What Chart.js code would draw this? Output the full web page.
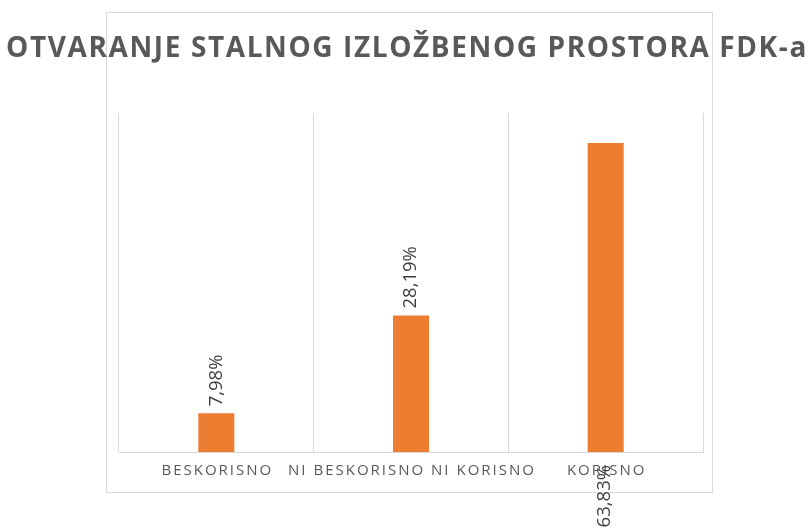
<!DOCTYPE html>
<html>
<head>
<meta charset="utf-8">
<script src="https://cdn.jsdelivr.net/npm/chart.js@4/dist/chart.umd.min.js"></script>
<style>
  html, body { margin: 0; padding: 0; background: #fff; }
  #wrap { width: 811px; height: 528px; position: relative; }
</style>
</head>
<body>
<div id="wrap"><canvas id="chart"></canvas></div>
<script>
const title = "OTVARANJE STALNOG IZLOŽBENOG PROSTORA FDK-a";
const categories = ["BESKORISNO", "NI BESKORISNO NI KORISNO", "KORISNO"];
const values = [7.98, 28.19, 63.83];
const valueLabels = ["7,98%", "28,19%", "63,83%"];
const yMax = 70;

const gray = "#D9D9D9";

// frame, title, category labels and value labels
const decor = {
  id: "decor",
  beforeDraw(chart) {
    const ctx = chart.ctx;
    ctx.save();
    ctx.strokeStyle = gray;
    ctx.lineWidth = 1;
    ctx.strokeRect(106.5, 12.5, 606, 480);
    ctx.restore();
  },
  afterDraw(chart) {
    const ctx = chart.ctx;
    const xs = chart.scales.x;
    const ys = chart.scales.y;
    const area = chart.chartArea;

    ctx.save();
    ctx.fillStyle = "#595959";
    ctx.font = "bold 28px 'Open Sans'";
    ctx.letterSpacing = "1.6px";
    ctx.textAlign = "center";
    ctx.textBaseline = "middle";
    ctx.fillText(title, 407, 49);

    ctx.font = "15px 'Open Sans'";
    ctx.letterSpacing = "2px";
    categories.forEach((c, i) => {
      ctx.fillText(c, xs.getPixelForValue(i) + 1, 471);
    });

    ctx.fillStyle = "#404040";
    ctx.font = "18.5px 'Open Sans'";
    ctx.letterSpacing = "0px";
    ctx.textBaseline = "middle";
    const meta = chart.getDatasetMeta(0);
    meta.data.forEach((bar, i) => {
      const w = ctx.measureText(valueLabels[i]).width;
      const top = ys.getPixelForValue(values[i]);
      ctx.save();
      if (top - 7 - w < area.top) {
        // no room above the bar: goes under the axis
        ctx.translate(bar.x - 1, area.bottom + 13);
        ctx.rotate(-Math.PI / 2);
        ctx.textAlign = "right";
      } else {
        ctx.translate(bar.x, top - 7);
        ctx.rotate(-Math.PI / 2);
        ctx.textAlign = "left";
      }
      ctx.fillText(valueLabels[i], 0, 0);
      ctx.restore();
    });
    ctx.restore();
  }
};

new Chart(document.getElementById("chart"), {
  type: "bar",
  data: {
    labels: categories,
    datasets: [{
      data: values,
      backgroundColor: "#ED7D31",
      barPercentage: 0.185,
      categoryPercentage: 1
    }]
  },
  options: {
    responsive: true,
    maintainAspectRatio: false,
    animation: false,
    layout: { padding: { left: 119, right: 108, top: 113, bottom: 76 } },
    plugins: {
      legend: { display: false },
      tooltip: { enabled: false }
    },
    scales: {
      x: {
        grid: { color: gray, drawTicks: false, offset: true },
        border: { color: gray },
        ticks: { display: false }
      },
      y: {
        display: false,
        min: 0,
        max: yMax
      }
    }
  },
  plugins: [decor]
});
</script>
</body>
</html>
